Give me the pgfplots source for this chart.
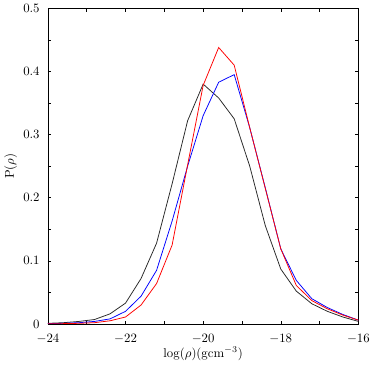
\documentclass[border=0pt]{standalone}
\usepackage{pgfplots}
\pgfplotsset{compat=1.18}
\definecolor{dgray}{RGB}{40,40,40}

\pgfplotstableread{
x      k       b       r
-24.0  0.001   0.0005  0.0003
-23.6  0.002   0.001   0.0005
-23.2  0.004   0.002   0.001
-22.8  0.007   0.004   0.002
-22.4  0.016   0.008   0.005
-22.0  0.033   0.020   0.011
-21.6  0.072   0.044   0.030
-21.2  0.128   0.085   0.064
-20.8  0.222   0.163   0.125
-20.4  0.322   0.250   0.252
-20.0  0.380   0.330   0.378
-19.6  0.358   0.383   0.438
-19.2  0.325   0.395   0.410
-18.8  0.250   0.311   0.311
-18.4  0.156   0.216   0.215
-18.0  0.087   0.119   0.119
-17.6  0.052   0.069   0.061
-17.2  0.032   0.040   0.037
-16.8  0.020   0.026   0.024
-16.4  0.011   0.015   0.014
-16.0  0.004   0.006   0.006
}\dens

\begin{document}
\begin{tikzpicture}
\begin{axis}[
  scale only axis,
  width=243pt, height=247pt,
  xmin=-24, xmax=-16, ymin=0, ymax=0.5,
  xtick={-24,-22,...,-16},
  minor xtick={-23,-21,...,-17},
  ytick={0,0.1,...,0.5},
  minor ytick={0.05,0.15,...,0.45},
  yticklabel style={/pgf/number format/fixed, /pgf/number format/precision=1, xshift=-3pt},
  xticklabel style={yshift=-4.5pt},
  tick align=inside,
  major tick length=2.5pt, minor tick length=2.5pt,
  tick style={black, line width=0.4pt},
  xlabel={$\log(\rho)(\mathrm{gcm}^{-3})$},
  ylabel={$\mathrm{P}(\rho)$},
  xlabel style={yshift=4pt},
  ylabel style={yshift=-2pt},
  axis line style={line width=0.5pt},
]
  \addplot[dgray, line width=0.6pt] table[x=x, y=k] {\dens};
  \addplot[blue, line width=0.6pt] table[x=x, y=b] {\dens};
  \addplot[red, line width=0.6pt] table[x=x, y=r] {\dens};
\end{axis}
\end{tikzpicture}
\end{document}
